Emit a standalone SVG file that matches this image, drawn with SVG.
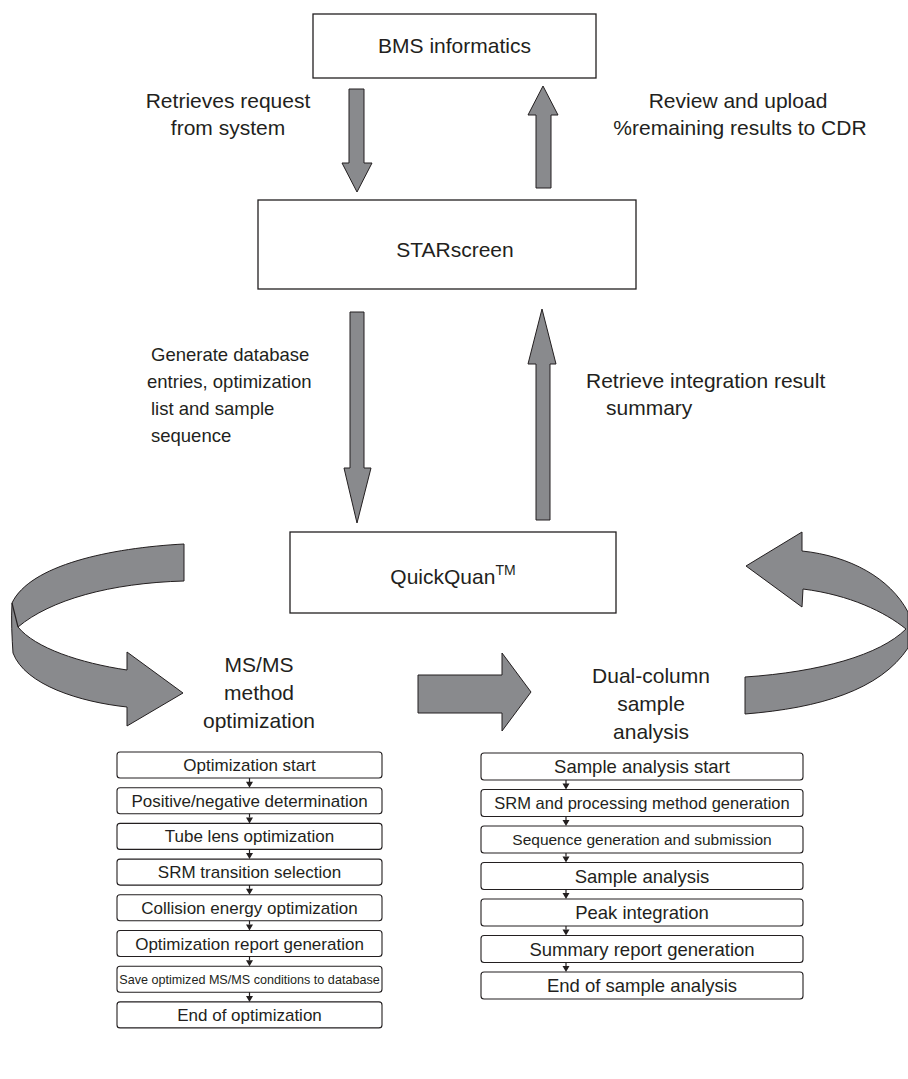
<svg xmlns="http://www.w3.org/2000/svg" width="908" height="1079" viewBox="0 0 908 1079">
<style>
text{font-family:"Liberation Sans",Arial,sans-serif;fill:#231f20}
.lbl{font-size:21px;text-anchor:middle}
.ls{font-size:21px;text-anchor:start}
.lft{font-size:18.5px;text-anchor:start}
.box{fill:#fff;stroke:#231f20;stroke-width:1.3}
.arr{fill:#898a8d;stroke:#231f20;stroke-width:1}
.step{fill:#fff;stroke:#231f20;stroke-width:1.1}
.st{font-size:17px;text-anchor:middle}
.sr{font-size:18.5px;text-anchor:middle}
.lk{stroke:#231f20;stroke-width:1.2;fill:none}
.hd{fill:#231f20}
</style>
<rect width="908" height="1079" fill="#fff"/>

<g id="bms"><rect class="box" x="313" y="14" width="283" height="64"/><text class="lbl" x="454.5" y="53">BMS informatics</text></g>
<g id="starscreen"><rect class="box" x="258" y="200" width="378" height="89"/><text class="lbl" x="455" y="257">STARscreen</text></g>
<g id="quickquan"><rect class="box" x="290" y="532" width="326" height="81"/><text class="lbl" x="453" y="584">QuickQuan<tspan style="font-size:14px" dy="-9">TM</tspan></text></g>

<g id="connectors">
<polygon class="arr" points="349,89 364,89 364,163 372,163 357,192 342,163 349,163"/>
<polygon class="arr" points="536,188 551,188 551,115 558,115 543,86 528,115 536,115"/>
<polygon class="arr" points="350,312 364,312 364,468 371,468 357,523 344,468 350,468"/>
<polygon class="arr" points="536,520 550,520 550,364 556,364 542,309 528,364 536,364"/>
<polygon class="arr" points="418,675 502,675 502,653 531,692 502,731 502,713 418,713"/>
<path class="arr" d="M184,544 C110,548 30,565 12,603 C11,620 12,638 13,653 C25,685 80,702 127,707 L127,726 L183,693 L127,652 L127,670 C80,663 35,648 18,627 C50,600 110,583 184,581 Z"/>
<path class="lk" d="M12,603 L18,627" stroke-width="1"/>
<path class="arr" d="M746,566 L802,532 L802,551 C850,556 890,578 908,612 L908,648 C880,690 820,708 745,714 L745,677 C820,672 880,655 906,629 C885,612 850,595 803,589 L802,607 Z"/>
</g>

<g id="labels">
<text class="lbl" x="228" y="108">Retrieves request</text>
<text class="lbl" x="228" y="135">from system</text>
<text class="lbl" x="738" y="108">Review and upload</text>
<text class="lbl" x="740" y="135">%remaining results to CDR</text>
<text class="lft" x="151" y="361">Generate database</text>
<text class="lft" x="147" y="388">entries, optimization</text>
<text class="lft" x="151" y="415">list and sample</text>
<text class="lft" x="151" y="442">sequence</text>
<text class="ls" x="586" y="388">Retrieve integration result</text>
<text class="ls" x="606" y="415">summary</text>
<text class="lbl" x="259" y="672">MS/MS</text>
<text class="lbl" x="259" y="700">method</text>
<text class="lbl" x="259" y="728">optimization</text>
<text class="lbl" x="651" y="683">Dual-column</text>
<text class="lbl" x="651" y="711">sample</text>
<text class="lbl" x="651" y="739">analysis</text>
</g>

<g id="opt-steps">
<g id="o1"><rect class="step" x="117" y="752" width="265" height="26" rx="3"/><text class="st" x="249.5" y="771">Optimization start</text></g>
<g id="o2"><rect class="step" x="117" y="787.7" width="265" height="26" rx="3"/><text class="st" x="249.5" y="806.7">Positive/negative determination</text></g>
<g id="o3"><rect class="step" x="117" y="823.4" width="265" height="26" rx="3"/><text class="st" x="249.5" y="842.4">Tube lens optimization</text></g>
<g id="o4"><rect class="step" x="117" y="859.1" width="265" height="26" rx="3"/><text class="st" x="249.5" y="878.1">SRM transition selection</text></g>
<g id="o5"><rect class="step" x="117" y="894.8" width="265" height="26" rx="3"/><text class="st" x="249.5" y="913.8">Collision energy optimization</text></g>
<g id="o6"><rect class="step" x="117" y="930.5" width="265" height="26" rx="3"/><text class="st" x="249.5" y="949.5">Optimization report generation</text></g>
<g id="o7"><rect class="step" x="117" y="966.2" width="265" height="26" rx="3"/><text class="st" x="249.5" y="983.7" style="font-size:12.6px">Save optimized MS/MS conditions to database</text></g>
<g id="o8"><rect class="step" x="117" y="1001.9" width="265" height="26" rx="3"/><text class="st" x="249.5" y="1020.9">End of optimization</text></g>
</g>

<g id="sample-steps">
<g id="s1"><rect class="step" x="481" y="753" width="322" height="27" rx="3"/><text class="sr" x="642" y="772.5">Sample analysis start</text></g>
<g id="s2"><rect class="step" x="481" y="789.5" width="322" height="27" rx="3"/><text class="sr" x="642" y="808.5" style="font-size:16.5px">SRM and processing method generation</text></g>
<g id="s3"><rect class="step" x="481" y="826" width="322" height="27" rx="3"/><text class="sr" x="642" y="845" style="font-size:15.5px">Sequence generation and submission</text></g>
<g id="s4"><rect class="step" x="481" y="862.5" width="322" height="27" rx="3"/><text class="sr" x="642" y="882.5">Sample analysis</text></g>
<g id="s5"><rect class="step" x="481" y="899" width="322" height="27" rx="3"/><text class="sr" x="642" y="919">Peak integration</text></g>
<g id="s6"><rect class="step" x="481" y="935.5" width="322" height="27" rx="3"/><text class="sr" x="642" y="955.5">Summary report generation</text></g>
<g id="s7"><rect class="step" x="481" y="972" width="322" height="27" rx="3"/><text class="sr" x="642" y="992">End of sample analysis</text></g>
</g>

<g id="step-links">
<path class="lk" d="M249.5,778V782M249.5,813.7V817.4M249.5,849.4V853.1M249.5,885.1V888.8M249.5,920.8V924.5M249.5,956.5V960.2M249.5,992.2V995.9"/>
<path class="hd" d="M246,781.7h7l-3.5,6zM246,817.4h7l-3.5,6zM246,853.1h7l-3.5,6zM246,888.8h7l-3.5,6zM246,924.5h7l-3.5,6zM246,960.2h7l-3.5,6zM246,995.9h7l-3.5,6z"/>
<path class="lk" d="M566,780V784M566,816.5V820M566,853V856.5M566,889.5V893M566,926V929.5M566,962.5V966"/>
<path class="hd" d="M562.5,783.5h7l-3.5,6zM562.5,820h7l-3.5,6zM562.5,856.5h7l-3.5,6zM562.5,893h7l-3.5,6zM562.5,929.5h7l-3.5,6zM562.5,966h7l-3.5,6z"/>
</g>
</svg>
